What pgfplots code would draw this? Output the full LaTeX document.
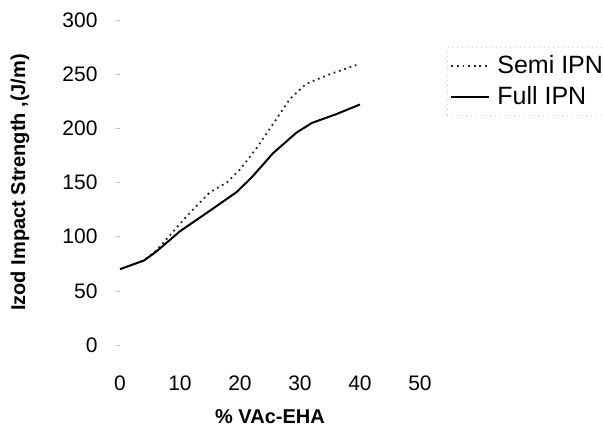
\documentclass[border=0pt]{standalone}
\usepackage{fontspec}
\setmainfont{Liberation Sans}
\usepackage{pgfplots}
\pgfplotsset{compat=1.18}
\begin{document}
\begin{tikzpicture}
\useasboundingbox (-60pt,-40.5pt) rectangle (241.5pt,172.5pt);
\begin{axis}[
  at={(0,0)}, anchor=south west,
  scale only axis, width=150pt, height=162.5pt,
  xmin=0, xmax=50, ymin=0, ymax=300,
  xtick={0,10,...,50}, ytick={0,50,...,300},
  ytick pos=left,
  axis line style={draw=none},
  xtick style={draw=none},
  ytick style={draw=gray!50, line width=0.3pt},
  tick align=outside, major tick length=2pt,
  /pgf/number format/assume math mode=true,
  tick label style={font=\fontsize{10.5}{12}\selectfont},
  xticklabel style={yshift=-10pt},
  yticklabel style={xshift=-5.7pt},
  xlabel={\textbf{\% VAc-EHA}},
  ylabel={\textbf{Izod Impact Strength ,(J/m)}},
  label style={font=\fontsize{10}{12}\selectfont},
  xlabel style={at={(axis description cs:0.5,-0.2215)}, anchor=center},
  ylabel style={at={(axis description cs:-0.3333,0.5)}, anchor=center, rotate=0},
  legend style={at={(axis description cs:1.09,0.917)}, anchor=north west,
    draw=gray!40, dotted, font=\fontsize{12.5}{14}\selectfont,
    inner xsep=1.5pt, inner ysep=2pt, row sep=1pt,
    nodes={inner xsep=3.5pt}},
  legend cell align=left,
  legend image code/.code={\draw[#1] (0pt,0pt) -- (19pt,0pt);},
]
\addplot[black!85, line width=0.9pt, dash pattern=on 0.9pt off 1.9pt] coordinates {
(0,70) (4,78) (6,87) (8.3,101) (10,112) (12.5,127) (15,141) (17.8,150)
(20,162) (22.8,182) (26,208) (28.3,227) (31,241) (35,250) (39.4,258.5)
};
\addlegendentry{Semi IPN}
\addplot[black, line width=1pt] coordinates {
(0,70) (4,78) (6,86) (10,105) (15,124) (19.4,141) (22,155) (25.5,177)
(29.4,196) (32,205) (36,213) (40,222)
};
\addlegendentry{Full IPN}
\end{axis}
\end{tikzpicture}
\end{document}
